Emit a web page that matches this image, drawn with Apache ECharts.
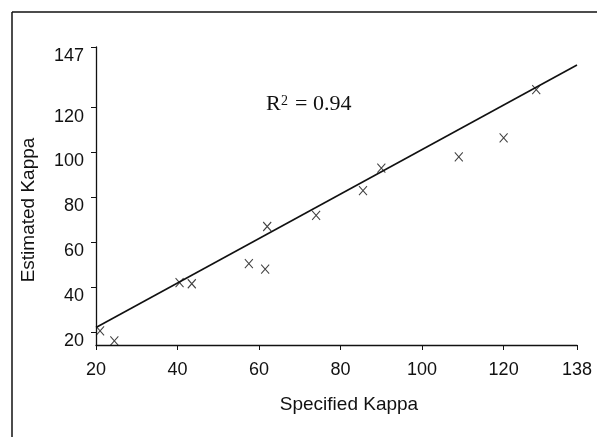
<!DOCTYPE html>
<html>
<head>
<meta charset="utf-8">
<script src="https://cdn.jsdelivr.net/npm/echarts@6/dist/echarts.min.js"></script>
<style>
  html, body { margin: 0; padding: 0; background: #fff; }
  #chart { width: 597px; height: 437px; }
</style>
</head>
<body>
<div id="chart"></div>
<script>
// specified vs estimated kappa
const specified = [21, 24.5, 40.5, 43.5, 57.5, 61.5, 62, 74, 85.5, 90, 109, 120, 128];
const estimated = [20.5, 16, 42, 41.5, 50.5, 48, 67, 72, 83, 93, 98, 106.5, 128];

// regression line end points
const fitX = [20, 138];
const fitY = [22, 139];

const xTicks = [20, 40, 60, 80, 100, 120, 138];
const yTicks = [20, 40, 60, 80, 100, 120, 147];

const chart = echarts.init(document.getElementById('chart'));

const axisFont = 'Liberation Sans, Arial, sans-serif';
const serifFont = '"Liberation Serif", "Times New Roman", serif';

const option = {
  backgroundColor: '#fff',
  animation: false,
  grid: { left: 96, right: 20, top: 47, bottom: 92 },
  xAxis: {
    type: 'value',
    min: 20,
    max: 138,
    splitLine: { show: false },
    axisLine: { lineStyle: { color: '#111', width: 1.3 } },
    axisTick: { customValues: xTicks, length: 5, lineStyle: { color: '#111' } },
    axisLabel: {
      customValues: xTicks,
      margin: 16,
      color: '#111',
      fontSize: 18,
      fontFamily: axisFont
    }
  },
  yAxis: {
    type: 'value',
    min: 14.2,
    max: 147,
    splitLine: { show: false },
    axisLine: { lineStyle: { color: '#111', width: 1.3 } },
    axisTick: { customValues: yTicks, length: 5, lineStyle: { color: '#111' } },
    axisLabel: {
      customValues: yTicks,
      margin: 12,
      verticalAlign: 'top',
      color: '#111',
      fontSize: 18,
      fontFamily: axisFont
    }
  },
  graphic: [
    // frame (top and left edges)
    { type: 'line', shape: { x1: 12, y1: 12, x2: 597, y2: 12 }, style: { stroke: '#111', lineWidth: 1.5 } },
    { type: 'line', shape: { x1: 12, y1: 12, x2: 12, y2: 437 }, style: { stroke: '#111', lineWidth: 1.5 } },
    // R squared note
    {
      type: 'text', x: 266, y: 115,
      style: { text: 'R', fill: '#111', font: '22px ' + serifFont, verticalAlign: 'bottom' }
    },
    {
      type: 'text', x: 281, y: 94,
      style: { text: '2', fill: '#111', font: '14px ' + serifFont, verticalAlign: 'top' }
    },
    {
      type: 'text', x: 295, y: 115,
      style: { text: '= 0.94', fill: '#111', font: '22px ' + serifFont, verticalAlign: 'bottom' }
    },
    {
      type: 'text',
      x: 349,
      y: 405,
      style: {
        text: 'Specified Kappa',
        fill: '#111',
        font: '19px ' + axisFont,
        align: 'center',
        verticalAlign: 'middle'
      }
    },
    {
      type: 'text',
      x: 29,
      y: 210,
      rotation: Math.PI / 2,
      style: {
        text: 'Estimated Kappa',
        fill: '#111',
        font: '19px ' + axisFont,
        align: 'center',
        verticalAlign: 'middle'
      }
    }
  ],
  series: [
    {
      type: 'line',
      data: fitX.map((x, i) => [x, fitY[i]]),
      symbol: 'none',
      lineStyle: { color: '#111', width: 1.6 },
      z: 2
    },
    {
      type: 'scatter',
      data: specified.map((x, i) => [x, estimated[i]]),
      symbol: 'path://M0,0L10,10M10,0L0,10',
      symbolSize: [8, 9],
      itemStyle: { color: 'transparent', borderColor: '#111', borderWidth: 1.1 },
      z: 3
    }
  ]
};

chart.setOption(option);
</script>
</body>
</html>
